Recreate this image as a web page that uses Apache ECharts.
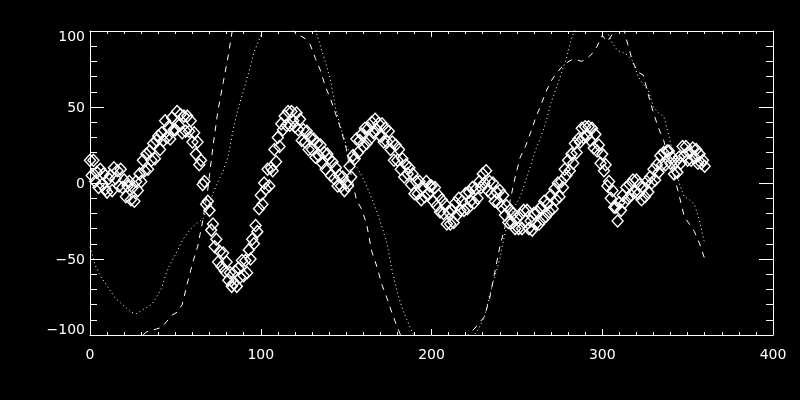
<!DOCTYPE html>
<html>
<head>
<meta charset="utf-8">
<script src="https://cdn.jsdelivr.net/npm/echarts@6/dist/echarts.min.js"></script>
<style>
html,body{margin:0;padding:0;background:#000;}
#c{width:800px;height:400px;}
</style>
</head>
<body>
<div id="c"></div>
<script>
// x positions of the two curves
var xValues = [0,3,6,9,12,15,18,21,24,27,30,33,36,39,42,45,48,51,54,57,60,63,66,69,72,75,78,81,84,87,90,93,96,99,102,105,108,111,114,117,120,123,126,129,132,135,138,141,144,147,150,153,156,159,162,165,168,171,174,177,180,183,186,189,192,195,198,201,204,207,210,213,216,219,222,225,228,231,234,237,240,243,246,249,252,255,258,261,264,267,270,273,276,279,282,285,288,291,294,297,300,303,306,309,312,315,318,321,324,327,330,333,336,339,342,345,348,351,354,357,360];

// diamond series: one value per index 0..360
var diamondValues = [
15,5,15,1,7,-3,9,-1,6,-4,
-6,3,5,-5,10,3,8,-2,9,-3,
2,-9,-2,1,-11,-3,-12,1,-5,6,
1,15,8,19,9,21,15,26,16,28,
31,22,33,28,41,30,37,29,43,35,
35,47,38,45,33,44,34,44,34,41,
27,33,19,27,12,15,-1,1,-14,-12,
-18,-31,-27,-42,-37,-52,-45,-55,-46,-58,
-52,-64,-59,-68,-66,-58,-68,-56,-62,-51,
-61,-51,-59,-44,-50,-37,-40,-28,-32,-17,
-8,-14,0,-4,9,-2,10,8,22,14,
30,24,39,35,44,38,47,38,47,41,
37,46,35,42,28,35,27,34,22,30,
22,29,17,26,18,25,13,20,9,19,
16,5,14,3,10,-2,5,-2,4,-5,
0,-2,11,4,18,16,29,20,28,32,
24,36,26,36,29,40,33,42,35,39,
31,39,27,36,27,34,22,27,15,25,
15,22,9,16,4,12,6,10,-1,6,
-7,1,-7,1,-11,-3,-9,1,-7,-2,
-2,-12,-3,-15,-8,-19,-11,-20,-14,-27,
-19,-27,-18,-26,-13,-21,-10,-18,-12,-18,
-7,-17,-6,-12,-3,-13,-4,-10,1,-3,
6,0,8,-5,1,-7,0,-12,-6,-13,
-5,-16,-8,-21,-15,-26,-18,-26,-20,-30,
-23,-30,-21,-30,-18,-25,-18,-30,-25,-31,
-20,-27,-19,-27,-16,-24,-12,-22,-14,-19,
-8,-17,-4,-11,0,-9,1,-3,9,5,
15,8,19,13,26,20,29,27,36,30,
37,31,37,28,36,23,32,21,25,13,
19,8,12,-2,1,-10,-5,-16,-16,-25,
-13,-18,-8,-13,-3,-10,-1,-8,2,-6,
2,-7,-1,-11,-3,-9,1,-6,4,0,
9,2,12,7,18,12,20,12,21,21,
13,17,6,14,7,17,13,24,18,24,
15,20,15,23,17,22,13,19,13,15,11];

var dashedValues = [-112,-115,-118,-120,-121,-120,-118,-114,-110,-105,-101,-98,-97,-96,-95,-91,-87,-85,-80,-66,-53,-42,-25,-4,24,48,66,84,105,115,122,127,130,131,130,128,124,118,110,103,99,97,95,91,82,74,63,55,45,35,23,5,-11,-17,-27,-45,-55,-67,-76,-86,-95,-103,-110,-116,-120,-123,-125,-126,-125,-122,-118,-113,-108,-103,-99,-96,-92,-88,-76,-59,-42,-29,-12,4,17,24,33,43,51,60,67,72,76,79,81,81,80,82,85,90,97,93,98,102,104,91,79,73,71,58,46,36,28,15,5,-8,-22,-27,-32,-40,-50];

var dottedValues = [-42,-54,-61,-66,-71,-76,-79,-82,-85,-86,-84,-82,-80,-75,-69,-58,-51,-45,-38,-33,-29,-26,-24,-16,-7,1,8,18,36,50,61,73,86,94,103,110,115,118,120,119,117,113,108,104,101,90,79,67,48,36,25,18,11,5,-2,-10,-19,-29,-40,-58,-72,-83,-91,-99,-105,-110,-114,-117,-118,-118,-117,-115,-112,-108,-104,-100,-95,-88,-74,-62,-50,-33,-22,-15,-9,1,11,22,30,40,53,62,72,82,95,104,108,109,108,105,102,99,92,87,86,84,80,70,65,61,50,46,44,31,17,0,-9,-11,-14,-25,-40];

var xTicks = [0,100,200,300,400];
var yTicks = [-100,-50,0,50,100];

function pairs(ys){ return xValues.map(function(x,i){ return [x, ys[i]]; }); }
function indexed(ys){ return ys.map(function(y,i){ return [i, y]; }); }

var chart = echarts.init(document.getElementById('c'), null, {renderer:'canvas'});
var white = '#ffffff';
var font = 'DejaVu Sans';

function xAxisDef(pos, showLabel){
  return {
    type:'value', position:pos, min:xTicks[0], max:xTicks[xTicks.length-1], interval:100,
    axisLine:{show:true, onZero:false, lineStyle:{color:white, width:1}},
    axisTick:{show:true, inside:true, length:6, lineStyle:{color:white}},
    minorTick:{show:true, splitNumber:10, length:3, lineStyle:{color:white}},
    splitLine:{show:false}, minorSplitLine:{show:false},
    axisLabel:{show:showLabel, color:white, fontFamily:font, fontSize:14, margin:13}
  };
}
function yAxisDef(pos, showLabel){
  return {
    type:'value', position:pos, min:yTicks[0], max:yTicks[yTicks.length-1], interval:50,
    axisLine:{show:true, onZero:false, lineStyle:{color:white, width:1}},
    axisTick:{show:true, inside:true, length:14, lineStyle:{color:white}},
    minorTick:{show:true, splitNumber:5, length:7, lineStyle:{color:white}},
    splitLine:{show:false}, minorSplitLine:{show:false},
    axisLabel:{show:showLabel, color:white, fontFamily:font, fontSize:14, margin:5,
      formatter:function(v){
        var s = String(v).replace('-', '\u2212');
        if (v === yTicks[yTicks.length-1]) return '{t|' + s + '}';
        if (v === yTicks[0]) return '{b|' + s + '}';
        return '{n|' + s + '}';
      },
      rich:{
        t:{color:white, fontFamily:font, fontSize:14, padding:[13,0,0,0]},
        b:{color:white, fontFamily:font, fontSize:14, padding:[0,0,9,0]},
        n:{color:white, fontFamily:font, fontSize:14, padding:[3,0,0,0]}
      }
    }
  };
}

chart.setOption({
  backgroundColor:'#000000',
  animation:false,
  grid:{left:90, right:27, top:31, bottom:65, containLabel:false},
  xAxis:[xAxisDef('bottom', true), xAxisDef('top', false)],
  yAxis:[yAxisDef('left', true), yAxisDef('right', false)],
  series:[
    {
      type:'line', name:'dashed', xAxisIndex:0, yAxisIndex:0,
      data:pairs(dashedValues), showSymbol:false, symbol:'none', clip:true,
      lineStyle:{color:white, width:1, type:[6,6]}
    },
    {
      type:'line', name:'dotted', xAxisIndex:0, yAxisIndex:0,
      data:pairs(dottedValues), showSymbol:false, symbol:'none', clip:true,
      lineStyle:{color:white, width:1, type:[1,3]}
    },
    {
      type:'scatter', name:'diamonds', xAxisIndex:0, yAxisIndex:0,
      data:indexed(diamondValues), symbol:'diamond', symbolSize:[11,12], clip:true,
      itemStyle:{color:'rgba(0,0,0,0)', borderColor:white, borderWidth:1.4, opacity:1}
    }
  ]
});
</script>
</body>
</html>
